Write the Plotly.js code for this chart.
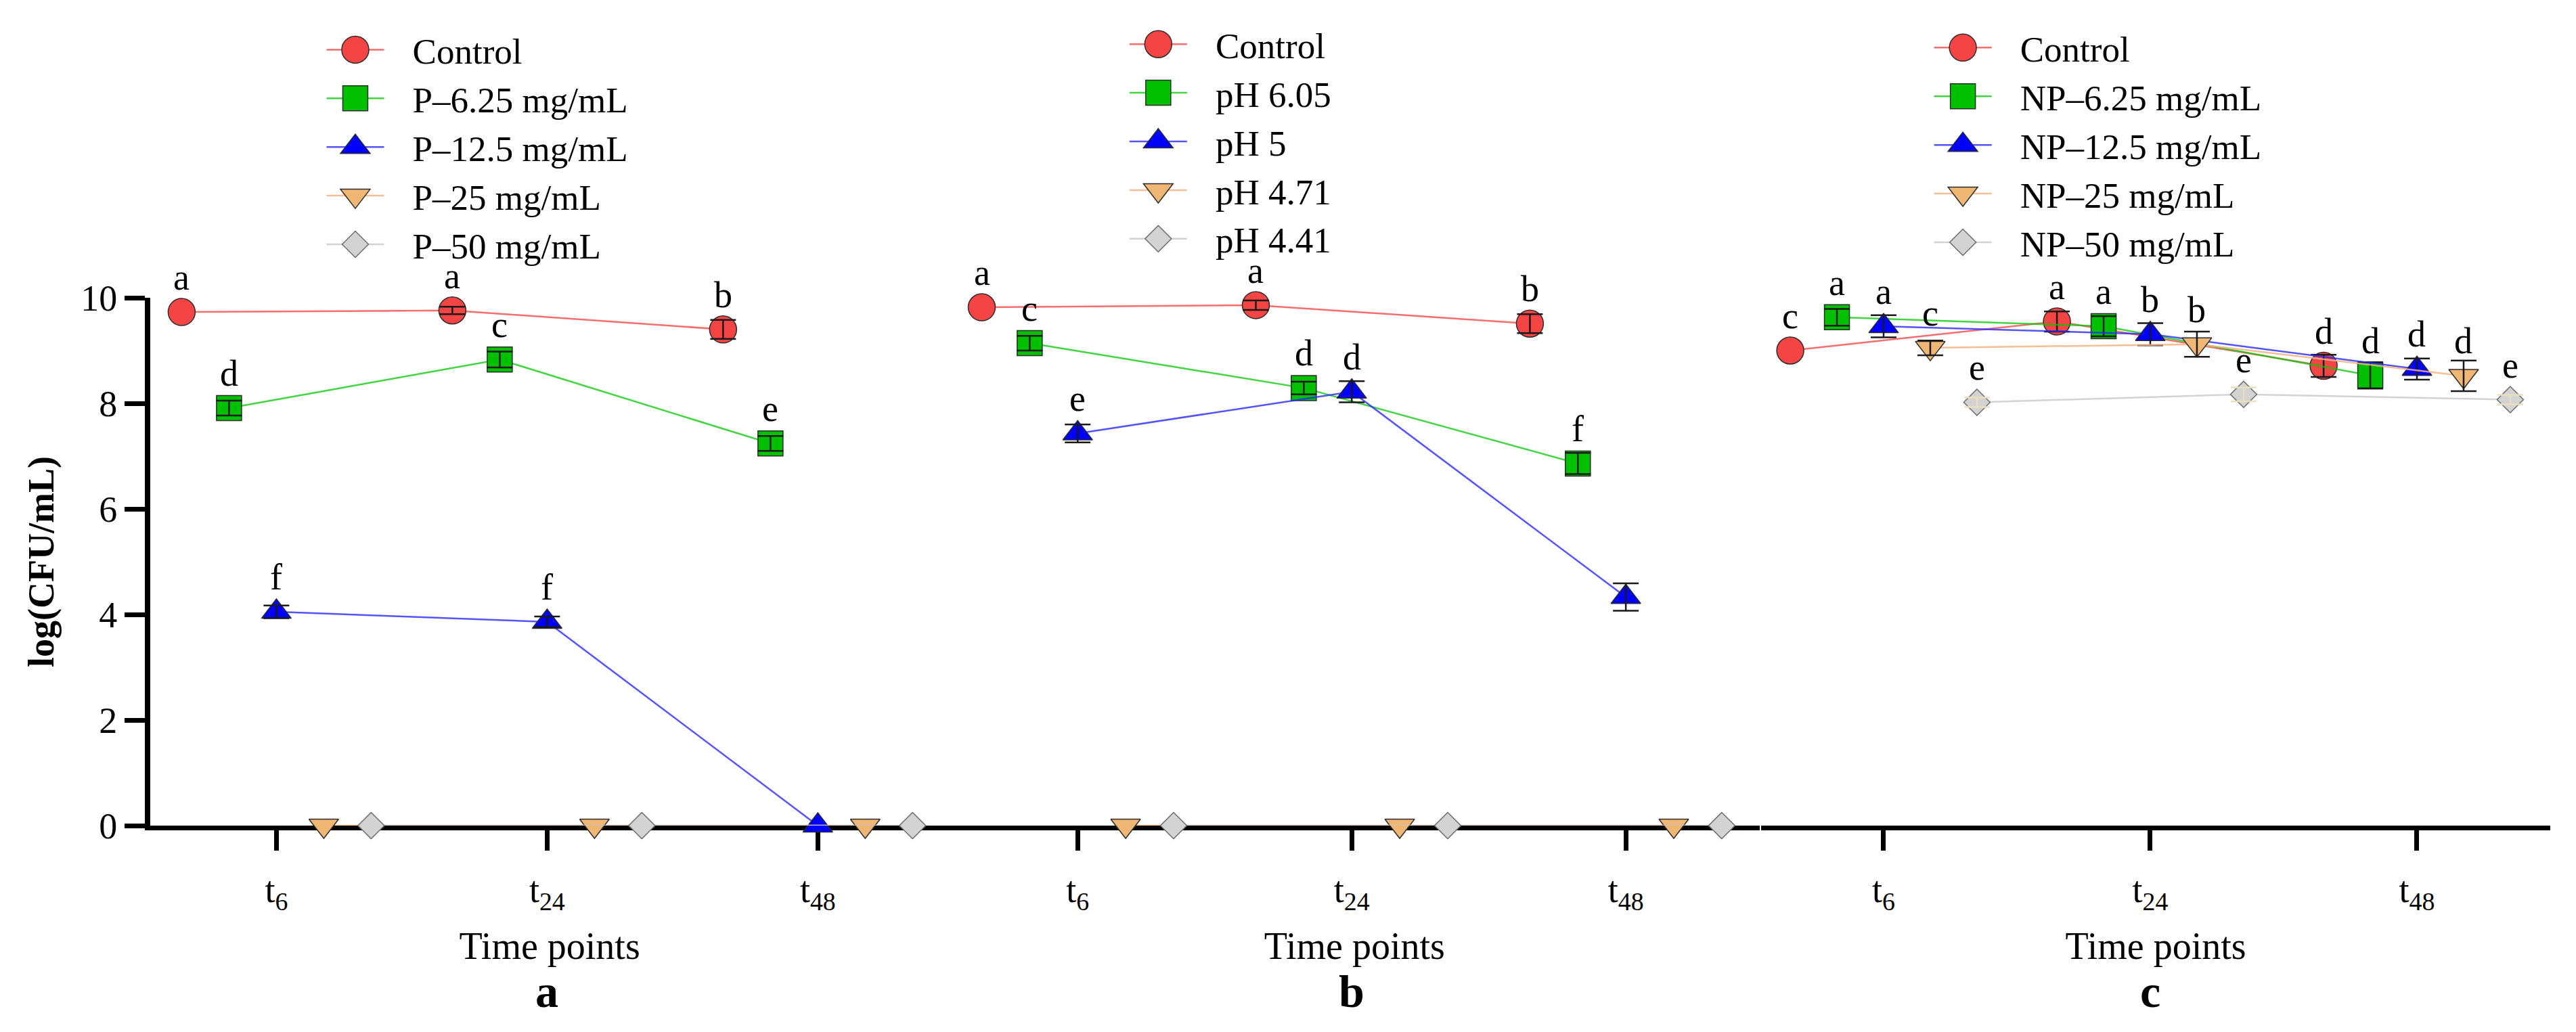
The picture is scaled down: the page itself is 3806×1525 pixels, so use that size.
<!DOCTYPE html>
<html>
<head>
<meta charset="utf-8">
<script src="https://cdn.plot.ly/plotly-3.0.1.min.js"></script>
<style>html,body{margin:0;padding:0;background:#fff}</style>
</head>
<body>
<div id="chart" style="width:3806px;height:1525px"></div>
<script>
// ---------- data ----------
const timeLabels = ['t<sub>6</sub>', 't<sub>24</sub>', 't<sub>48</sub>'];
const timeIndex = [0, 1, 2];

// Panel a
const namesA = ['Control', 'P–6.25 mg/mL', 'P–12.5 mg/mL', 'P–25 mg/mL', 'P–50 mg/mL'];
const controlA = [9.73, 9.76, 9.40];
const p625A = [7.91, 8.83, 7.24];
const p125A = [4.05, 3.86, 0];
const p25A = [0, 0, 0];
const p50A = [0, 0, 0];
const errControlA = [0, 0.07, 0.18];
const errP625A = [0.14, 0.15, 0.14];
const errP125A = [0.12, 0.10, 0];
const errP25A = [0, 0, 0];
const errP50A = [0, 0, 0];
const lettersControlA = ['a', 'a', 'b'];
const lettersP625A = ['d', 'c', 'e'];
const lettersP125A = ['f', 'f', ''];
const lettersP25A = ['', '', ''];
const lettersP50A = ['', '', ''];

// Panel b
const namesB = ['Control', 'pH 6.05', 'pH 5', 'pH 4.71', 'pH 4.41'];
const controlB = [9.82, 9.86, 9.51];
const ph605B = [9.14, 8.29, 6.86];
const ph5B = [7.43, 8.22, 4.33];
const ph471B = [0, 0, 0];
const ph441B = [0, 0, 0];
const errControlB = [0, 0.09, 0.18];
const errPh605B = [0.14, 0.12, 0.20];
const errPh5B = [0.17, 0.20, 0.26];
const errPh471B = [0, 0, 0];
const errPh441B = [0, 0, 0];
const lettersControlB = ['a', 'a', 'b'];
const lettersPh605B = ['c', 'd', 'f'];
const lettersPh5B = ['e', 'd', ''];
const lettersPh471B = ['', '', ''];
const lettersPh441B = ['', '', ''];

// Panel c
const namesC = ['Control', 'NP–6.25 mg/mL', 'NP–12.5 mg/mL', 'NP–25 mg/mL', 'NP–50 mg/mL'];
const controlC = [9.00, 9.55, 8.71];
const np625C = [9.63, 9.46, 8.53];
const np125C = [9.46, 9.31, 8.65];
const np25C = [9.05, 9.12, 8.52];
const np50C = [8.02, 8.17, 8.07];
const errControlC = [0, 0.19, 0.21];
const errNp625C = [0.16, 0.19, 0.25];
const errNp125C = [0.21, 0.21, 0.20];
const errNp25C = [0.14, 0.24, 0.29];
const errNp50C = [0.09, 0.13, 0.09];
const lettersControlC = ['c', 'a', 'd'];
const lettersNp625C = ['a', 'a', 'd'];
const lettersNp125C = ['a', 'b', 'd'];
const lettersNp25C = ['c', 'b', 'd'];
const lettersNp50C = ['e', 'e', 'e'];

const panelLetters = ['a', 'b', 'c'];
const xTitle = 'Time points';
const yTitle = 'log(CFU/mL)';

// ---------- styling ----------
const FONT = 'Liberation Serif, Times New Roman, serif';
const seriesStyle = [
  {symbol: 'circle',        size: 40, fill: '#F54444', line: 'rgba(245,60,60,0.75)',  err: '#1a1a1a'},
  {symbol: 'square',        size: 37, fill: '#00C000', line: 'rgba(0,200,0,0.75)',    err: '#1a1a1a'},
  {symbol: 'triangle-up',   size: 38, fill: '#0000FF', line: 'rgba(40,40,255,0.8)',   err: '#1a1a1a'},
  {symbol: 'triangle-down', size: 38, fill: '#F0B674', line: 'rgba(242,180,130,0.85)', err: '#1a1a1a'},
  {symbol: 'diamond',       size: 30, fill: '#D3D3D3', line: 'rgba(200,200,200,0.8)', err: '#EADFBE'}
];
const dodge = [-0.35, -0.175, 0, 0.175, 0.35];
const GAP = '\u2002\u2009';

const panels = [
  {xaxis: 'x',  legend: 'legend',  names: namesA,
   values: [controlA, p625A, p125A, p25A, p50A],
   errors: [errControlA, errP625A, errP125A, errP25A, errP50A],
   letters: [lettersControlA, lettersP625A, lettersP125A, lettersP25A, lettersP50A]},
  {xaxis: 'x2', legend: 'legend2', names: namesB,
   values: [controlB, ph605B, ph5B, ph471B, ph441B],
   errors: [errControlB, errPh605B, errPh5B, errPh471B, errPh441B],
   letters: [lettersControlB, lettersPh605B, lettersPh5B, lettersPh471B, lettersPh441B]},
  {xaxis: 'x3', legend: 'legend3', names: namesC,
   values: [controlC, np625C, np125C, np25C, np50C],
   errors: [errControlC, errNp625C, errNp125C, errNp25C, errNp50C],
   letters: [lettersControlC, lettersNp625C, lettersNp125C, lettersNp25C, lettersNp50C]}
];

const traces = [];
const annotations = [];
panels.forEach((p, pi) => {
  p.names.forEach((name, i) => {
    const st = seriesStyle[i];
    const xs = timeIndex.map(t => t + dodge[i]);
    traces.push({
      type: 'scatter', mode: 'lines+markers', name: GAP + name,
      legend: p.legend, xaxis: p.xaxis, yaxis: 'y',
      x: xs, y: p.values[i], cliponaxis: false, hoverinfo: 'x+y',
      line: {color: st.line, width: 2.5},
      marker: {symbol: st.symbol, size: st.size, color: st.fill,
               line: {color: i === 4 ? '#6a6a6a' : '#2b2b2b', width: 1.5}}
    });
    const errs = p.errors[i].map(e => e > 0 ? e : NaN);
    if (errs.some(e => !isNaN(e))) {
      traces.push({
        type: 'scatter', mode: 'markers', showlegend: false, hoverinfo: 'skip',
        xaxis: p.xaxis, yaxis: 'y', x: xs, y: p.values[i], cliponaxis: false,
        marker: {size: 2, opacity: 0, color: st.fill},
        error_y: {type: 'data', array: errs, visible: true, color: st.err,
                  thickness: 2.5, width: 19}
      });
    }
    p.letters[i].forEach((L, k) => {
      if (!L) return;
      annotations.push({
        xref: p.xaxis, yref: 'y', x: xs[k], y: p.values[i][k], text: L,
        showarrow: false, xanchor: 'center', yanchor: 'bottom', yshift: 19,
        font: {family: FONT, size: 54, color: '#000'}
      });
    });
  });
  annotations.push({
    xref: p.xaxis, yref: 'paper', x: 1, y: -0.314, text: '<b>' + panelLetters[pi] + '</b>',
    showarrow: false, xanchor: 'center', yanchor: 'middle',
    font: {family: FONT, size: 68, color: '#000'}
  });
});

function xAxis(domain, range) {
  return {
    domain: domain, range: range, anchor: 'y',
    tickmode: 'array', tickvals: timeIndex, ticktext: timeLabels,
    ticks: 'outside', ticklen: 30, tickwidth: 7, tickcolor: '#000',
    ticklabelstandoff: 12,
    showline: true, linewidth: 6.5, linecolor: '#000',
    showgrid: false, zeroline: false, layer: 'below traces',
    tickfont: {family: FONT, size: 54, color: '#000'},
    title: {text: xTitle, standoff: 28, font: {family: FONT, size: 56, color: '#000'}},
    fixedrange: true
  };
}

const legendBase = {
  font: {family: FONT, size: 53, color: '#000'},
  bgcolor: 'rgba(0,0,0,0)', borderwidth: 0,
  itemwidth: 85, xanchor: 'left', yanchor: 'top', orientation: 'v',
  itemclick: false, itemdoubleclick: false
};

const layout = {
  width: 3806, height: 1525,
  margin: {l: 221.5, r: 38, t: 440, b: 305},
  paper_bgcolor: '#fff', plot_bgcolor: '#fff',
  font: {family: FONT, color: '#000'},
  showlegend: true,
  xaxis: xAxis([0, 0.33286], [-0.466, 2.485]),
  xaxis2: xAxis([0.33286, 0.67066], [-0.469, 2.489]),
  xaxis3: xAxis([0.67122, 1], [-0.459, 2.5]),
  yaxis: {
    domain: [0, 1], range: [0, 10], anchor: 'x', dtick: 2, tick0: 0,
    ticks: 'outside', ticklen: 30, tickwidth: 7, tickcolor: '#000',
    showline: true, linewidth: 8, linecolor: '#000',
    showgrid: false, zeroline: false, layer: 'below traces',
    tickfont: {family: FONT, size: 54, color: '#000'},
    title: {text: yTitle, standoff: 25, font: {family: FONT, size: 54, weight: 'bold', color: '#000'}},
    fixedrange: true
  },
  legend:  Object.assign({}, legendBase, {x: 0.07204, y: 1.5225}),
  legend2: Object.assign({}, legendBase, {x: 0.40660, y: 1.5330}),
  legend3: Object.assign({}, legendBase, {x: 0.74186, y: 1.5264}),
  annotations: annotations
};

function enlargeLegendMarkers() {
  document.querySelectorAll('#chart g.traces').forEach(g => {
    const d = g.__data__;
    const tr = d && d[0] && d[0].trace;
    if (!tr || !tr.marker) return;
    const k = tr.marker.size / 16;
    g.querySelectorAll('path.scatterpts').forEach(pth => {
      const t = pth.getAttribute('transform') || '';
      if (t.indexOf('scale') === -1) pth.setAttribute('transform', t + ' scale(' + k + ')');
      pth.style.vectorEffect = 'non-scaling-stroke';
    });
  });
}

const gd = document.getElementById('chart');
Plotly.newPlot(gd, traces, layout, {displayModeBar: false, staticPlot: true}).then(() => {
  enlargeLegendMarkers();
  gd.on('plotly_afterplot', enlargeLegendMarkers);
});
</script>
</body>
</html>
